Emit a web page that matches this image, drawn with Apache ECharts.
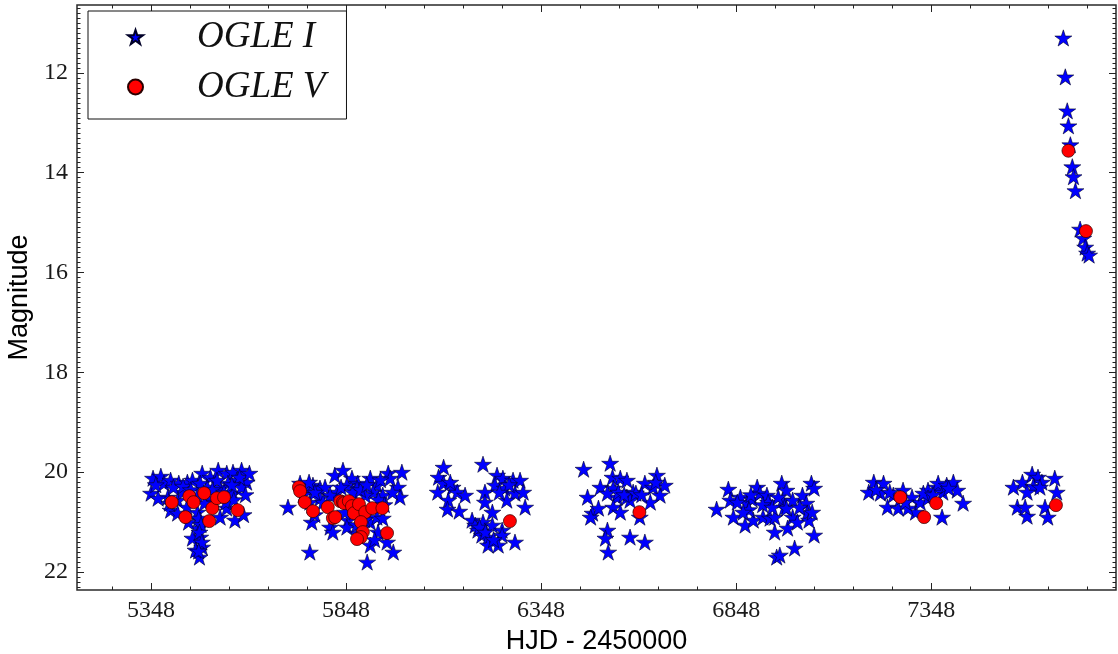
<!DOCTYPE html>
<html>
<head>
<meta charset="utf-8">
<script src="https://cdn.jsdelivr.net/npm/echarts@6/dist/echarts.min.js"></script>
<style>
  html, body { margin: 0; padding: 0; background: #ffffff; }
  #chart { width: 1118px; height: 654px; }
</style>
</head>
<body>
<div id="chart"></div>
<script>
// OGLE light curve, HJD - 2450000 against magnitude (I band stars, V band circles)

// I band, one array per observing season
const iSeason1 = [
  [5353,20.12],[5373,20.08],[5348,20.42],[5381,20.22],[5398,20.16],[5419,20.22],[5441,20.20],[5454,20.16],
  [5479,20.02],[5500,20.10],[5520,19.96],[5542,20.02],[5558,20.00],[5580,19.96],[5593,20.20],[5568,20.16],
  [5545,20.22],[5525,20.30],[5492,20.30],[5474,20.22],[5391,20.50],[5416,20.56],[5398,20.76],[5416,20.82],
  [5467,20.80],[5474,20.96],[5469,21.12],[5474,21.30],[5479,21.50],[5472,21.70],[5525,20.90],[5542,20.72],
  [5563,20.96],[5558,20.42],[5580,20.30],[5492,20.52],[5517,20.16],[5467,20.46],[5429,20.40],[5366,20.52],
  [5444,21.00],[5454,21.32],[5462,21.56],[5360,20.25],[5405,20.30],[5430,20.28],[5450,20.35],[5505,20.35],
  [5535,20.40],[5575,20.10],[5590,20.45],[5510,20.60],[5540,20.60],[5395,20.62],[5440,20.70],[5485,20.62],
  [5470,20.92],[5476,21.05],[5472,21.20],[5478,21.40],[5470,21.58],[5555,20.25],[5600,20.02],[5560,20.55],
  [5585,20.85]
];
const iSeason2 = [
  [5699,20.70],[5730,20.22],[5747,20.32],[5763,20.26],[5781,20.32],[5794,20.30],[5819,20.06],[5840,19.96],
  [5863,20.12],[5878,20.22],[5910,20.12],[5927,20.26],[5956,20.02],[5961,20.12],[5981,20.30],[5986,20.50],
  [5942,20.46],[5917,20.40],[5897,20.46],[5876,20.32],[5850,20.26],[5825,20.40],[5807,20.46],[5781,20.52],
  [5755,20.60],[5760,21.00],[5807,21.10],[5814,21.20],[5853,20.96],[5910,21.00],[5927,20.90],[5942,20.92],
  [5953,21.40],[5969,21.60],[5910,21.46],[5902,21.80],[5755,21.60],[5850,21.10],[5930,21.20],[5876,21.22],
  [5738,20.45],[5768,20.40],[5789,20.60],[5835,20.30],[5865,20.40],[5885,20.35],[5901,20.25],[5931,20.55],
  [5946,20.65],[5967,20.40],[5896,20.95],[5875,21.05],[5921,21.35],[5845,20.80],[5768,20.85],[5753,20.20],
  [5936,20.15],[5991,20.00]
];
const iSeason3 = [
  [6098,19.90],[6085,20.10],[6098,20.22],[6083,20.40],[6121,20.30],[6133,20.40],[6153,20.46],[6110,20.56],
  [6108,20.74],[6138,20.78],[6199,19.84],[6235,20.06],[6250,20.12],[6276,20.16],[6294,20.16],[6230,20.26],
  [6255,20.32],[6204,20.40],[6281,20.42],[6302,20.40],[6204,20.60],[6260,20.56],[6307,20.70],[6223,20.80],
  [6171,20.96],[6179,21.06],[6199,21.00],[6223,21.06],[6186,21.16],[6196,21.26],[6212,21.30],[6248,21.16],
  [6248,21.26],[6212,21.46],[6238,21.46],[6281,21.40],[6115,20.20],[6266,20.25],[6241,20.40],[6190,21.10],
  [6205,21.20],[6226,21.35]
];
const iSeason4 = [
  [6457,19.94],[6525,19.82],[6531,20.10],[6500,20.30],[6467,20.50],[6480,20.82],[6495,20.72],[6475,20.90],
  [6533,20.32],[6551,20.12],[6568,20.16],[6584,20.40],[6543,20.50],[6568,20.50],[6533,20.70],[6551,20.80],
  [6614,20.22],[6645,20.06],[6665,20.26],[6635,20.30],[6653,20.46],[6628,20.60],[6601,20.90],[6518,21.16],
  [6513,21.32],[6520,21.60],[6576,21.30],[6614,21.40],[6518,20.42],[6576,20.56],[6546,20.40],[6561,20.45],
  [6591,20.42],[6606,20.45],[6642,20.20]
];
const iSeason5 = [
  [6798,20.74],[6828,20.34],[6841,20.90],[6833,20.56],[6859,20.50],[6876,20.62],[6871,21.06],[6889,20.54],
  [6892,20.96],[6902,20.30],[6909,20.42],[6927,20.46],[6930,20.60],[6917,20.90],[6935,20.92],[6947,20.90],
  [6947,21.20],[6952,21.70],[6960,21.66],[6965,20.22],[6967,20.56],[6977,20.36],[6972,20.70],[6980,21.12],
  [6993,20.56],[6998,21.52],[6993,20.90],[7005,21.00],[7018,20.46],[7028,20.62],[7030,20.82],[7041,20.22],
  [7048,20.32],[7035,20.96],[7043,20.80],[7048,21.26],[6977,20.72],[6851,20.60],[6881,20.75],[6916,20.65],
  [6941,20.70],[6956,20.50],[7011,20.70],[6886,20.45],[6866,20.80]
];
const iSeason6 = [
  [7188,20.40],[7201,20.20],[7218,20.42],[7226,20.22],[7236,20.70],[7251,20.46],[7264,20.72],[7276,20.36],
  [7269,20.52],[7299,20.50],[7308,20.80],[7320,20.60],[7340,20.36],[7340,20.52],[7363,20.30],[7366,20.22],
  [7378,20.40],[7388,20.26],[7405,20.20],[7415,20.36],[7376,20.90],[7430,20.62],[7289,20.72],[7328,20.42],
  [7207,20.35],[7242,20.40],[7282,20.60],[7353,20.45],[7393,20.32]
];
const iSeason7 = [
  [7559,20.30],[7582,20.20],[7607,20.04],[7622,20.10],[7632,20.20],[7610,20.28],[7594,20.40],[7569,20.70],
  [7594,20.88],[7589,20.70],[7665,20.12],[7670,20.40],[7640,20.70],[7647,20.90],[7627,20.30]
];
const iOutburst = [
  [7687,11.30],[7692,12.08],[7697,12.76],[7700,13.06],[7705,13.44],[7710,13.88],[7713,14.08],[7718,14.36],
  [7730,15.13],[7738,15.31],[7743,15.49],[7748,15.61],[7753,15.65]
];

// V band
const vSeason1 = [
  [5401,20.60],[5436,20.90],[5446,20.48],[5457,20.60],[5484,20.42],[5505,20.72],[5497,20.98],[5517,20.52],
  [5535,20.50],[5570,20.76]
];
const vSeason2 = [
  [5727,20.30],[5730,20.38],[5742,20.60],[5763,20.78],[5801,20.70],[5814,20.92],[5820,20.90],[5833,20.58],
  [5840,20.60],[5843,20.62],[5855,20.58],[5863,20.68],[5868,20.82],[5881,20.64],[5897,20.80],[5915,20.72],
  [5941,20.72],[5886,21.00],[5891,21.20],[5886,21.30],[5876,21.34],[5953,21.22]
];
const vSeason3 = [[6268,20.98]];
const vSeason4 = [[6600,20.80]];
const vSeason6 = [[7269,20.50],[7361,20.62],[7330,20.90]];
const vSeason7 = [[7668,20.66]];
const vOutburst = [[7700,13.56],[7745,15.17]];

// Axis ranges and labelled ticks
const hjdRange = [5158, 7822];
const magRange = [10.64, 22.36];
const hjdTicks = [5348, 5848, 6348, 6848, 7348];
const magTicks = [12, 14, 16, 18, 20, 22];

const iBand = [].concat(iSeason1, iSeason2, iSeason3, iSeason4, iSeason5, iSeason6, iSeason7, iOutburst);
const vBand = [].concat(vSeason1, vSeason2, vSeason3, vSeason4, vSeason6, vSeason7, vOutburst);

// Minor tick positions: every 100 days, every 0.1 mag
const hjdMinor = [];
for (let t = 5248; t <= hjdRange[1]; t += 100) hjdMinor.push(t);
const magMinor = [];
for (let k = 107; k <= 223; k++) magMinor.push(k / 10);

const STAR = 'path://M0,-1L0.2245,-0.309L0.951,-0.309L0.363,0.118L0.588,0.809L0,0.382L-0.588,0.809L-0.363,0.118L-0.951,-0.309L-0.2245,-0.309Z';

const tickColor = '#222';
const labelFont = { fontFamily: 'Liberation Serif', fontSize: 24, color: '#1a1a1a' };
const nameFont = { fontFamily: 'Liberation Sans', fontSize: 27, color: '#000' };

function xAxisPart(position, values, length, withLabels) {
  const ax = {
    type: 'value', position: position, min: hjdRange[0], max: hjdRange[1],
    axisLine: { show: false }, splitLine: { show: false },
    axisTick: { show: true, inside: true, length: length, customValues: values,
                lineStyle: { color: tickColor, width: 1 } },
    axisLabel: { show: false }
  };
  if (withLabels) {
    ax.axisLabel = Object.assign({ show: true, customValues: values, margin: 9,
                                   formatter: v => String(v) }, labelFont);
    ax.name = 'HJD - 2450000';
    ax.nameLocation = 'middle';
    ax.nameGap = 36;
    ax.nameTextStyle = nameFont;
  }
  return ax;
}

function yAxisPart(position, values, length, withLabels) {
  const ax = {
    type: 'value', position: position, min: magRange[0], max: magRange[1], inverse: true,
    axisLine: { show: false }, splitLine: { show: false },
    axisTick: { show: true, inside: true, length: length, customValues: values,
                lineStyle: { color: tickColor, width: 1 } },
    axisLabel: { show: false }
  };
  if (withLabels) {
    ax.axisLabel = Object.assign({ show: true, customValues: values, margin: 9,
                                   formatter: v => String(v) }, labelFont);
    ax.name = 'Magnitude';
    ax.nameLocation = 'middle';
    ax.nameGap = 39;
    ax.nameTextStyle = nameFont;
  }
  return ax;
}

const chart = echarts.init(document.getElementById('chart'), null, { renderer: 'canvas' });
chart.setOption({
  animation: false,
  backgroundColor: '#ffffff',
  grid: {
    left: 77, right: 2, top: 5, bottom: 64,
    show: true, borderColor: '#2a2a2a', borderWidth: 1.5, backgroundColor: 'transparent',
    containLabel: false, outerBoundsMode: 'none'
  },
  xAxis: [
    xAxisPart('bottom', hjdTicks, 7, true),
    xAxisPart('bottom', hjdMinor, 3.5, false),
    xAxisPart('top', hjdTicks, 7, false),
    xAxisPart('top', hjdMinor, 3.5, false)
  ],
  yAxis: [
    yAxisPart('left', magTicks, 7, true),
    yAxisPart('left', magMinor, 3.5, false),
    yAxisPart('right', magTicks, 7, false),
    yAxisPart('right', magMinor, 3.5, false)
  ],
  legend: {
    orient: 'vertical', left: 88, top: 11,
    padding: [6, 21, 12, 39],
    itemGap: 10, itemWidth: 15, itemHeight: 15,
    borderColor: '#111', borderWidth: 1, backgroundColor: '#fff',
    textStyle: { fontFamily: 'Liberation Serif', fontStyle: 'italic', fontSize: 37,
                 color: '#111', lineHeight: 40, padding: [0, 0, 0, 49] },
    data: ['OGLE I', 'OGLE V']
  },
  series: [
    {
      name: 'OGLE I', type: 'scatter', data: iBand,
      symbol: STAR, symbolSize: 17, symbolKeepAspect: true,
      itemStyle: { color: '#0000ff', borderColor: '#000028', borderWidth: 0.6, opacity: 1 }
    },
    {
      name: 'OGLE V', type: 'scatter', data: vBand,
      symbol: 'circle', symbolSize: 13,
      itemStyle: { color: '#ff0000', borderColor: '#2a0000', borderWidth: 0.7, opacity: 1 }
    }
  ]
});
</script>
</body>
</html>
